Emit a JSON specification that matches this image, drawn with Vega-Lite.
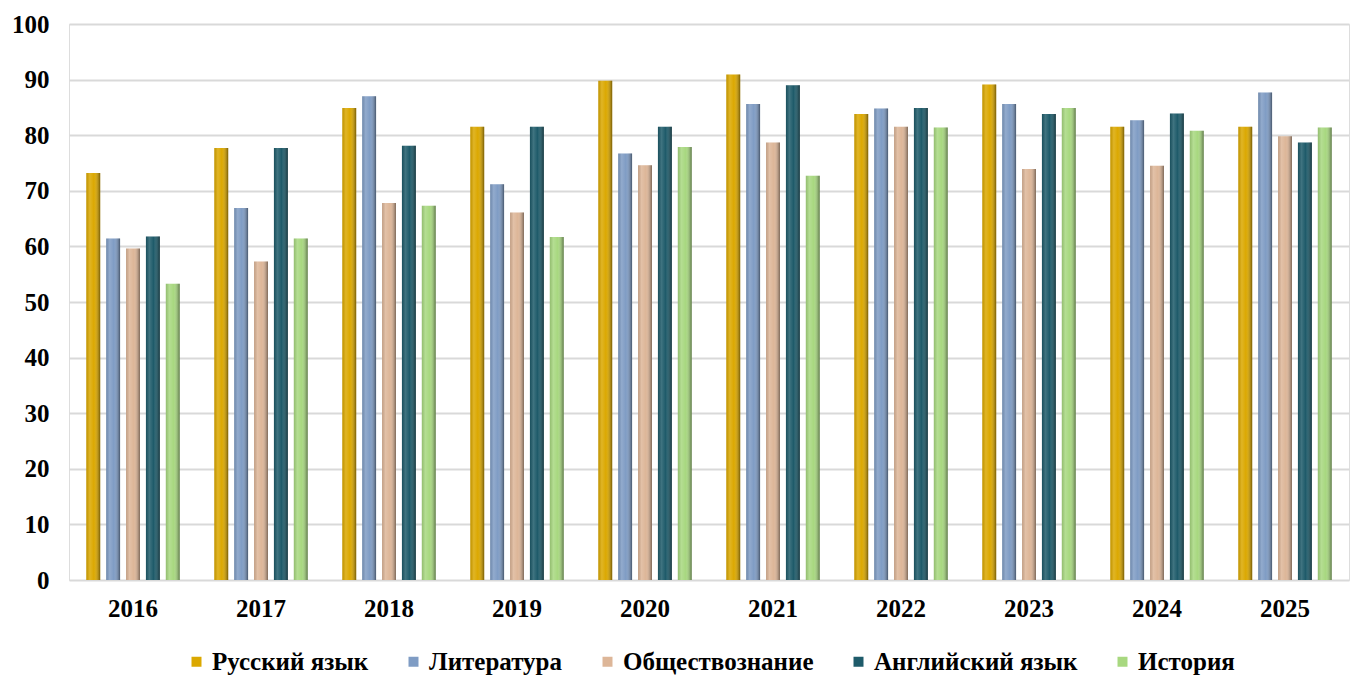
{
  "$schema": "https://vega.github.io/schema/vega-lite/v6.json",
  "autosize": "none",
  "padding": {"left": 69, "top": 24, "right": 3, "bottom": 95},
  "width": 1280,
  "height": 556,
  "background": "white",
  "config": {
    "font": "Liberation Serif",
    "legend": {"layout": {"bottom": {"anchor": "middle"}}}
  },
  "data": {"values": [
    {"year": "2016", "subject": "Русский язык", "value": 73.2},
    {"year": "2016", "subject": "Литература", "value": 61.4},
    {"year": "2016", "subject": "Обществознание", "value": 59.6},
    {"year": "2016", "subject": "Английский язык", "value": 61.8},
    {"year": "2016", "subject": "История", "value": 53.3},
    {"year": "2017", "subject": "Русский язык", "value": 77.7},
    {"year": "2017", "subject": "Литература", "value": 66.9},
    {"year": "2017", "subject": "Обществознание", "value": 57.3},
    {"year": "2017", "subject": "Английский язык", "value": 77.7},
    {"year": "2017", "subject": "История", "value": 61.4},
    {"year": "2018", "subject": "Русский язык", "value": 84.9},
    {"year": "2018", "subject": "Литература", "value": 87.0},
    {"year": "2018", "subject": "Обществознание", "value": 67.8},
    {"year": "2018", "subject": "Английский язык", "value": 78.1},
    {"year": "2018", "subject": "История", "value": 67.3},
    {"year": "2019", "subject": "Русский язык", "value": 81.5},
    {"year": "2019", "subject": "Литература", "value": 71.2},
    {"year": "2019", "subject": "Обществознание", "value": 66.1},
    {"year": "2019", "subject": "Английский язык", "value": 81.5},
    {"year": "2019", "subject": "История", "value": 61.7},
    {"year": "2020", "subject": "Русский язык", "value": 89.8},
    {"year": "2020", "subject": "Литература", "value": 76.7},
    {"year": "2020", "subject": "Обществознание", "value": 74.6},
    {"year": "2020", "subject": "Английский язык", "value": 81.5},
    {"year": "2020", "subject": "История", "value": 77.9},
    {"year": "2021", "subject": "Русский язык", "value": 90.9},
    {"year": "2021", "subject": "Литература", "value": 85.6},
    {"year": "2021", "subject": "Обществознание", "value": 78.7},
    {"year": "2021", "subject": "Английский язык", "value": 89.0},
    {"year": "2021", "subject": "История", "value": 72.7},
    {"year": "2022", "subject": "Русский язык", "value": 83.8},
    {"year": "2022", "subject": "Литература", "value": 84.8},
    {"year": "2022", "subject": "Обществознание", "value": 81.5},
    {"year": "2022", "subject": "Английский язык", "value": 84.9},
    {"year": "2022", "subject": "История", "value": 81.4},
    {"year": "2023", "subject": "Русский язык", "value": 89.1},
    {"year": "2023", "subject": "Литература", "value": 85.6},
    {"year": "2023", "subject": "Обществознание", "value": 73.9},
    {"year": "2023", "subject": "Английский язык", "value": 83.8},
    {"year": "2023", "subject": "История", "value": 84.9},
    {"year": "2024", "subject": "Русский язык", "value": 81.5},
    {"year": "2024", "subject": "Литература", "value": 82.7},
    {"year": "2024", "subject": "Обществознание", "value": 74.5},
    {"year": "2024", "subject": "Английский язык", "value": 83.9},
    {"year": "2024", "subject": "История", "value": 80.8},
    {"year": "2025", "subject": "Русский язык", "value": 81.5},
    {"year": "2025", "subject": "Литература", "value": 87.7},
    {"year": "2025", "subject": "Обществознание", "value": 79.8},
    {"year": "2025", "subject": "Английский язык", "value": 78.7},
    {"year": "2025", "subject": "История", "value": 81.4}
  ]},
  "encoding": {
    "x": {
      "field": "year", "type": "nominal",
      "scale": {"paddingInner": 0.27, "paddingOuter": 0.135},
      "axis": {
        "title": null, "labelAngle": 0, "domain": false, "ticks": false,
        "labelFont": "Liberation Serif", "labelFontWeight": "bold", "labelFontSize": 25,
        "labelColor": "black", "labelPadding": 16
      }
    },
    "xOffset": {
      "field": "subject", "type": "nominal",
      "sort": ["Русский язык", "Литература", "Обществознание", "Английский язык", "История"],
      "scale": {"paddingInner": 0.3, "paddingOuter": 0}
    },
    "y": {
      "field": "value", "type": "quantitative",
      "scale": {"domain": [0, 100]},
      "axis": {
        "title": null, "values": [0, 10, 20, 30, 40, 50, 60, 70, 80, 90, 100],
        "domain": false, "ticks": false, "gridColor": "#d9d9d9", "gridWidth": 2,
        "labelFont": "Liberation Serif", "labelFontWeight": "bold", "labelFontSize": 25,
        "labelColor": "black", "labelPadding": 20
      }
    }
  },
  "layer": [
    {
      "mark": {"type": "bar"},
      "encoding": {
        "color": {
          "field": "subject", "type": "nominal",
          "sort": ["Русский язык", "Литература", "Обществознание", "Английский язык", "История"],
          "scale": {
            "domain": ["Русский язык", "Литература", "Обществознание", "Английский язык", "История"],
            "range": ["#DBA800", "#7F9CC4", "#DDB698", "#1E5B6A", "#A8D880"]
          },
          "legend": {
            "title": null, "orient": "bottom", "direction": "horizontal",
            "symbolType": "square", "symbolSize": 100, "symbolStrokeWidth": 0,
            "labelFont": "Liberation Serif", "labelFontWeight": "bold", "labelFontSize": 25,
            "labelColor": "black", "labelLimit": 400, "columnPadding": 32,
            "labelOffset": 3, "offset": 28
          }
        }
      }
    },
    {
      "mark": {
        "type": "bar",
        "color": {
          "gradient": "linear", "x1": 0, "x2": 1, "y1": 0, "y2": 0,
          "stops": [
            {"offset": 0, "color": "rgba(0,0,0,0.12)"},
            {"offset": 0.25, "color": "rgba(255,255,255,0.15)"},
            {"offset": 0.55, "color": "rgba(255,255,255,0)"},
            {"offset": 1, "color": "rgba(0,0,0,0.45)"}
          ]
        }
      }
    }
  ]
}
